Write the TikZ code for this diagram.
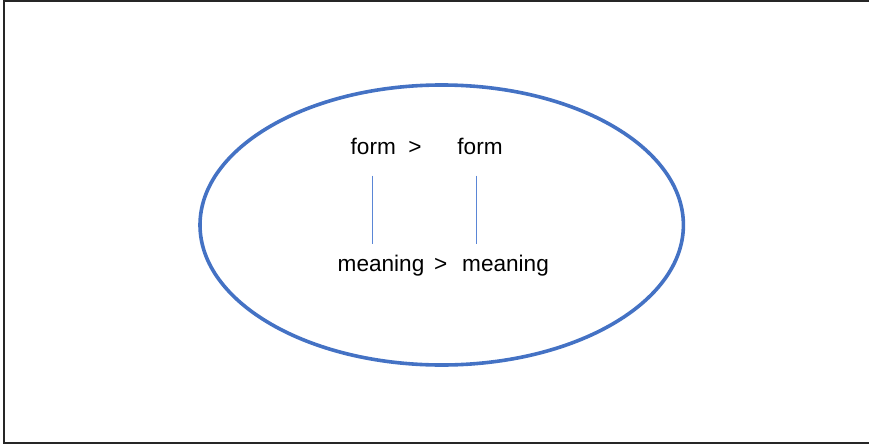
\documentclass[tikz,border=0pt]{standalone}
\usepackage{fontspec}
\usetikzlibrary{shapes.geometric}
\setmainfont{Liberation Sans}
\definecolor{ellblue}{HTML}{4472C4}
\definecolor{lineblue}{HTML}{5A86D6}
\begin{document}
\begin{tikzpicture}[x=1pt,y=1pt,
  lbl/.style={anchor=base west,inner sep=0pt,outer sep=0pt,font=\fontsize{22.6}{26}\selectfont},
  ring/.style={draw=ellblue,line width=3.6pt},
  link/.style={draw=lineblue,line width=0.9pt}]
\useasboundingbox (0,0) rectangle (869,-444);
\begin{scope}
\clip (0,0) rectangle (869,-444);
\draw[line width=1.6pt,draw=black!85] (4,-1.3) rectangle (880,-442.7);
\end{scope}
\node[ring,ellipse,minimum width=483.4pt,minimum height=280pt,inner sep=0pt] (ell) at (441.7,-225) {};
\node[lbl] (form1) at (350.7,-154) {form};
\node[lbl] (gt1) at (408.4,-154) {>};
\node[lbl] (form2) at (457.4,-154) {form};
\node[lbl] (mean1) at (337.7,-271) {meaning};
\node[lbl] (gt2) at (434,-271) {>};
\node[lbl] (mean2) at (462.2,-271) {meaning};
\coordinate (a1) at (372.3,-175.7);
\coordinate (b1) at (372.3,-244.3);
\coordinate (a2) at (476,-175.7);
\coordinate (b2) at (476,-244.3);
\draw[link] (a1) -- (b1);
\draw[link] (a2) -- (b2);
\end{tikzpicture}
\end{document}
